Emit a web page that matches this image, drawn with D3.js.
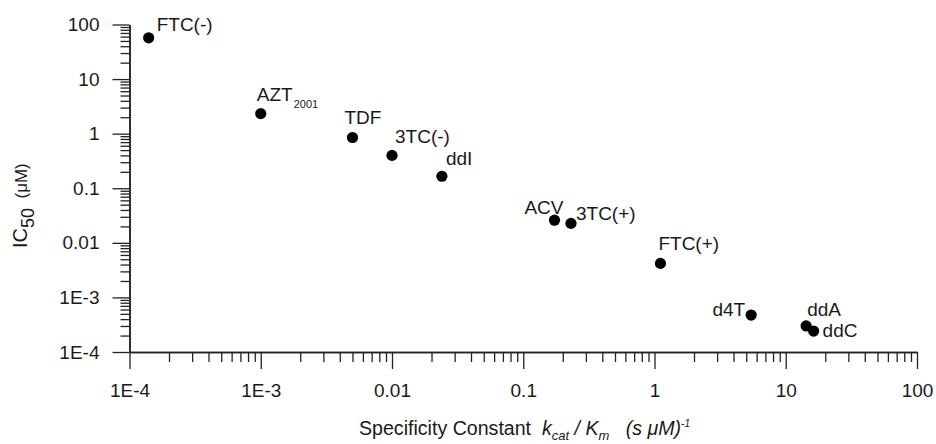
<html>
<head>
<meta charset="utf-8">
<script src="https://cdn.jsdelivr.net/npm/d3@7"></script>
<style>
  body { margin: 0; background: #fff; }
  text { font-family: "Liberation Sans", Arial, sans-serif; fill: #1a1a1a; }
</style>
</head>
<body>
<svg id="chart" width="936" height="444"></svg>
<script>

// drug names, optional subscript, specificity constant (x) and IC50 (y)
const names = ["FTC(-)", "AZT", "TDF", "3TC(-)", "ddI", "ACV", "3TC(+)", "FTC(+)", "d4T", "ddA", "ddC"];
const subs = ["", "2001", "", "", "", "", "", "", "", "", ""];
const kcatKm = [1.4e-4, 1.0e-3, 5.0e-3, 0.0100, 0.024, 0.173, 0.231, 1.11, 5.45, 14.3, 16.3];
const ic50 = [57, 2.33, 0.85, 0.40, 0.166, 0.026, 0.0227, 0.0042, 4.75e-4, 3.0e-4, 2.42e-4];

// decade ticks
const majorTicks = [1e-4, 1e-3, 1e-2, 1e-1, 1, 10, 100];
const tickLabels = ["1E-4", "1E-3", "0.01", "0.1", "1", "10", "100"];

// where each label sits relative to its point: [dx, dy, anchor]
const labelPlace = [
    [8, -7, "start"], [-4, -13, "start"], [-8, -14, "start"], [3, -12, "start"],
    [4, -11, "start"], [9, -6, "end"], [5, -3, "start"], [-2, -13, "start"],
    [-6, 1, "end"], [1, -10, "start"], [9, 6, "start"]
];

const svg = d3.select("#chart");

const x = d3.scaleLog().domain([1e-4, 100]).range([129.5, 917]);
const y = d3.scaleLog().domain([1e-4, 100]).range([352, 24.5]);

const minorTicks = [];
majorTicks.slice(0, -1).forEach(d => {
    for (let k = 2; k <= 9; k++) minorTicks.push(d * k);
});

const fmt = d => tickLabels[majorTicks.indexOf(d)];

function styleAxis(g) {
    g.select(".domain").attr("stroke", "#222").attr("stroke-width", 1.5);
    g.selectAll(".tick line").attr("stroke", "#222").attr("stroke-width", 1.3);
    g.selectAll(".tick text")
        .style("font-family", "'Liberation Sans', Arial, sans-serif")
        .style("font-size", "19px")
        .attr("fill", "#1a1a1a");
}

// x axis
svg.append("g")
    .attr("transform", "translate(0,352)")
    .call(d3.axisBottom(x).tickValues(minorTicks).tickSize(10).tickSizeOuter(0).tickFormat(""))
    .call(styleAxis);
svg.append("g")
    .attr("transform", "translate(0,352)")
    .call(d3.axisBottom(x).tickValues(majorTicks).tickSize(17).tickSizeOuter(0).tickPadding(15).tickFormat(fmt))
    .call(styleAxis);

// y axis
svg.append("g")
    .attr("transform", "translate(129.5,0)")
    .call(d3.axisLeft(y).tickValues(minorTicks).tickSize(9).tickSizeOuter(0).tickFormat(""))
    .call(styleAxis);
svg.append("g")
    .attr("transform", "translate(129.5,0)")
    .call(d3.axisLeft(y).tickValues(majorTicks).tickSize(17).tickSizeOuter(0).tickPadding(13).tickFormat(fmt))
    .call(styleAxis);

// points
svg.selectAll(".dot")
    .data(names)
    .enter()
    .append("circle")
    .attr("class", "dot")
    .attr("cx", (d, i) => x(kcatKm[i]))
    .attr("cy", (d, i) => y(ic50[i]))
    .attr("r", 5.6)
    .attr("fill", "#000");

// labels
const labels = svg.selectAll(".lbl")
    .data(names)
    .enter()
    .append("text")
    .attr("class", "lbl")
    .attr("x", (d, i) => x(kcatKm[i]) + labelPlace[i][0])
    .attr("y", (d, i) => y(ic50[i]) + labelPlace[i][1])
    .attr("text-anchor", (d, i) => labelPlace[i][2])
    .style("font-size", "19px");
labels.append("tspan").text(d => d);
labels.filter((d, i) => subs[i] !== "")
    .append("tspan")
    .attr("dx", 1)
    .attr("dy", 7)
    .style("font-size", "11px")
    .text((d, i) => subs[names.indexOf(d)]);

// x axis title
const xt = svg.append("text")
    .attr("x", 359)
    .attr("y", 435)
    .style("font-size", "19.6px")
    .style("white-space", "pre");
xt.append("tspan").text("Specificity Constant  ");
xt.append("tspan").style("font-style", "italic").text("k");
xt.append("tspan").style("font-style", "italic").style("font-size", "13px").attr("dy", 5).text("cat");
xt.append("tspan").style("font-style", "italic").attr("dy", -5).text(" / K");
xt.append("tspan").style("font-style", "italic").style("font-size", "13px").attr("dy", 5).text("m");
xt.append("tspan").style("font-style", "italic").attr("dy", -5).text("   (s \u03bcM)");
xt.append("tspan").style("font-style", "italic").style("font-size", "10px").attr("dy", -8).text("-1");

// y axis title
const yt = svg.append("text")
    .attr("transform", "translate(27,248) rotate(-90)")
    .style("font-size", "20px")
    .style("white-space", "pre");
yt.append("tspan").text("IC");
yt.append("tspan").style("font-size", "18px").attr("dy", 7).text("50");
yt.append("tspan").style("font-size", "17px").attr("dy", -7).text("  (\u03bcM)");

</script>
</body>
</html>
